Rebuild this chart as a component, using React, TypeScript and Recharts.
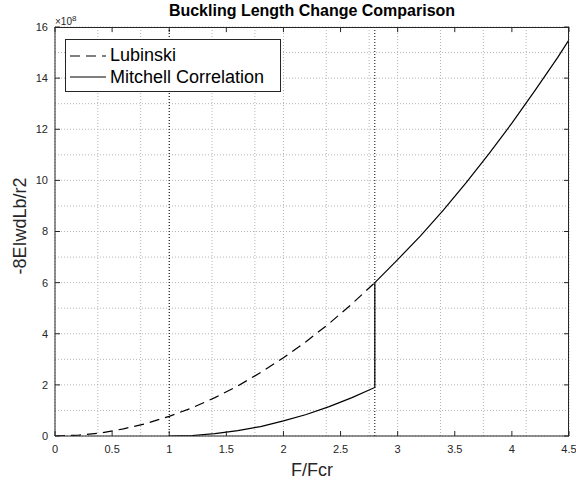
import { CartesianGrid, Line, LineChart, ReferenceLine, XAxis, YAxis } from "recharts";

// F/Fcr positions and values (x 1e8)
const lubinskiX = [0, 0.2, 0.4, 0.6, 0.8, 1.0, 1.2, 1.4, 1.6, 1.8, 2.0, 2.2, 2.4, 2.6, 2.8];
const lubinskiY = [0, 0.03, 0.12, 0.28, 0.49, 0.77, 1.1, 1.5, 1.96, 2.48, 3.06, 3.7, 4.4, 5.17, 6.0];

const mitchellX = [1.0, 1.2, 1.4, 1.6, 1.8, 2.0, 2.2, 2.4, 2.6, 2.8, 2.8, 3.0, 3.2, 3.4, 3.6, 3.8, 4.0, 4.2, 4.4, 4.5];
const mitchellY = [0, 0.02, 0.09, 0.21, 0.37, 0.59, 0.84, 1.15, 1.5, 1.9, 6.0, 6.9, 7.83, 8.84, 9.91, 11.05, 12.24, 13.5, 14.8, 15.5];

const xTicks = [0, 0.5, 1, 1.5, 2, 2.5, 3, 3.5, 4, 4.5];
const yTicks = [0, 2, 4, 6, 8, 10, 12, 14, 16];
const markers = [1, 2.8];

const lubinski = lubinskiX.map((x, i) => ({ x, y: lubinskiY[i] }));
const mitchell = mitchellX.map((x, i) => ({ x, y: mitchellY[i] }));

// minor grid, MATLAB style
const minorX: number[] = [];
for (let i = 0; i <= 36; i++) minorX.push(i * 0.125);
const minorY: number[] = [];
for (let i = 0; i <= 32; i++) minorY.push(i * 0.5);

const font = "'Liberation Sans', Arial, Helvetica, sans-serif";
const ink = "#262626";
const tickStyle = { fill: ink, fontSize: 11, fontFamily: font };
const X_MAX = 4.5;
const Y_MAX = 16;

// plot box in px (margin + axis sizes below)
const M = { top: 27, right: 7, left: 15, bottom: 25 };
const Y_AXIS_W = 40;
const X_AXIS_H = 20;

export default function App() {
  return (
    <div style={{ position: "absolute", left: 0, top: 0, width: 576, height: 481, background: "#fff", fontFamily: font }}>
      <LineChart width={576} height={481} margin={M}>
        <CartesianGrid
          stroke="#b4b4b4"
          strokeDasharray="1 2"
          horizontalValues={minorY}
          verticalValues={minorX}
        />
        <XAxis
          dataKey="x"
          type="number"
          domain={[0, X_MAX]}
          ticks={xTicks}
          allowDataOverflow
          height={X_AXIS_H}
          stroke={ink}
          tickSize={-5}
          tickMargin={14}
          tick={tickStyle}
        />
        <YAxis
          type="number"
          domain={[0, Y_MAX]}
          ticks={yTicks}
          allowDataOverflow
          width={Y_AXIS_W}
          stroke={ink}
          tickSize={-5}
          tickMargin={12}
          tick={tickStyle}
        />
        {xTicks.map((t) => (
          <ReferenceLine
            key={`tx${t}`}
            segment={[{ x: t, y: Y_MAX }, { x: t, y: Y_MAX - 0.2 }]}
            stroke={ink}
            ifOverflow="visible"
          />
        ))}
        {yTicks.map((t) => (
          <ReferenceLine
            key={`ty${t}`}
            segment={[{ x: X_MAX, y: t }, { x: X_MAX - 0.044, y: t }]}
            stroke={ink}
            ifOverflow="visible"
          />
        ))}
        {markers.map((m) => (
          <ReferenceLine key={m} x={m} stroke="#000" strokeDasharray="1 2" strokeWidth={1} />
        ))}
        <Line
          data={lubinski}
          dataKey="y"
          type="linear"
          stroke="#000"
          strokeWidth={1.2}
          strokeDasharray="10 6"
          dot={false}
          isAnimationActive={false}
        />
        <Line
          data={mitchell}
          dataKey="y"
          type="linear"
          stroke="#000"
          strokeWidth={1.2}
          dot={false}
          isAnimationActive={false}
        />
      </LineChart>

      {/* top and right edges of the axes box */}
      <div
        style={{
          position: "absolute",
          left: M.left + Y_AXIS_W,
          top: M.top,
          width: 576 - M.left - Y_AXIS_W - M.right,
          height: 481 - M.top - M.bottom - X_AXIS_H,
          boxSizing: "border-box",
          borderTop: `1px solid ${ink}`,
          borderRight: `1px solid ${ink}`,
          pointerEvents: "none",
        }}
      />

      <div style={{ position: "absolute", left: 0, width: 624, top: 1, textAlign: "center", fontSize: 16, lineHeight: "20px", fontWeight: "bold", color: "#000" }}>
        Buckling Length Change Comparison
      </div>
      <div style={{ position: "absolute", left: 55, top: 13, fontSize: 10, lineHeight: "12px", color: ink }}>
        ×10<sup style={{ fontSize: 8, verticalAlign: 4 }}>8</sup>
      </div>
      <div style={{ position: "absolute", left: 0, width: 624, top: 459, textAlign: "center", fontSize: 18, lineHeight: "22px", color: ink }}>
        F/Fcr
      </div>
      <div
        style={{
          position: "absolute",
          left: 20,
          top: 226,
          fontSize: 18,
          lineHeight: "22px",
          color: ink,
          whiteSpace: "nowrap",
          transform: "translate(-50%, -50%) rotate(-90deg)",
        }}
      >
        -8EIwdLb/r2
      </div>

      <div style={{ position: "absolute", left: 65, top: 39, width: 214, height: 51, border: `1px solid ${ink}`, background: "#fff" }}>
        <svg width={42} height={51} style={{ position: "absolute", left: 0, top: 0 }}>
          <line x1={4} x2={40} y1={16} y2={16} stroke="#000" strokeWidth={1.2} strokeDasharray="10 6" />
          <line x1={4} x2={40} y1={37} y2={37} stroke="#000" strokeWidth={1.2} />
        </svg>
        <div style={{ position: "absolute", left: 44, top: 4, fontSize: 18, color: "#000", lineHeight: "22px" }}>Lubinski</div>
        <div style={{ position: "absolute", left: 44, top: 26, fontSize: 18, color: "#000", lineHeight: "22px", whiteSpace: "nowrap" }}>
          Mitchell Correlation
        </div>
      </div>
    </div>
  );
}
